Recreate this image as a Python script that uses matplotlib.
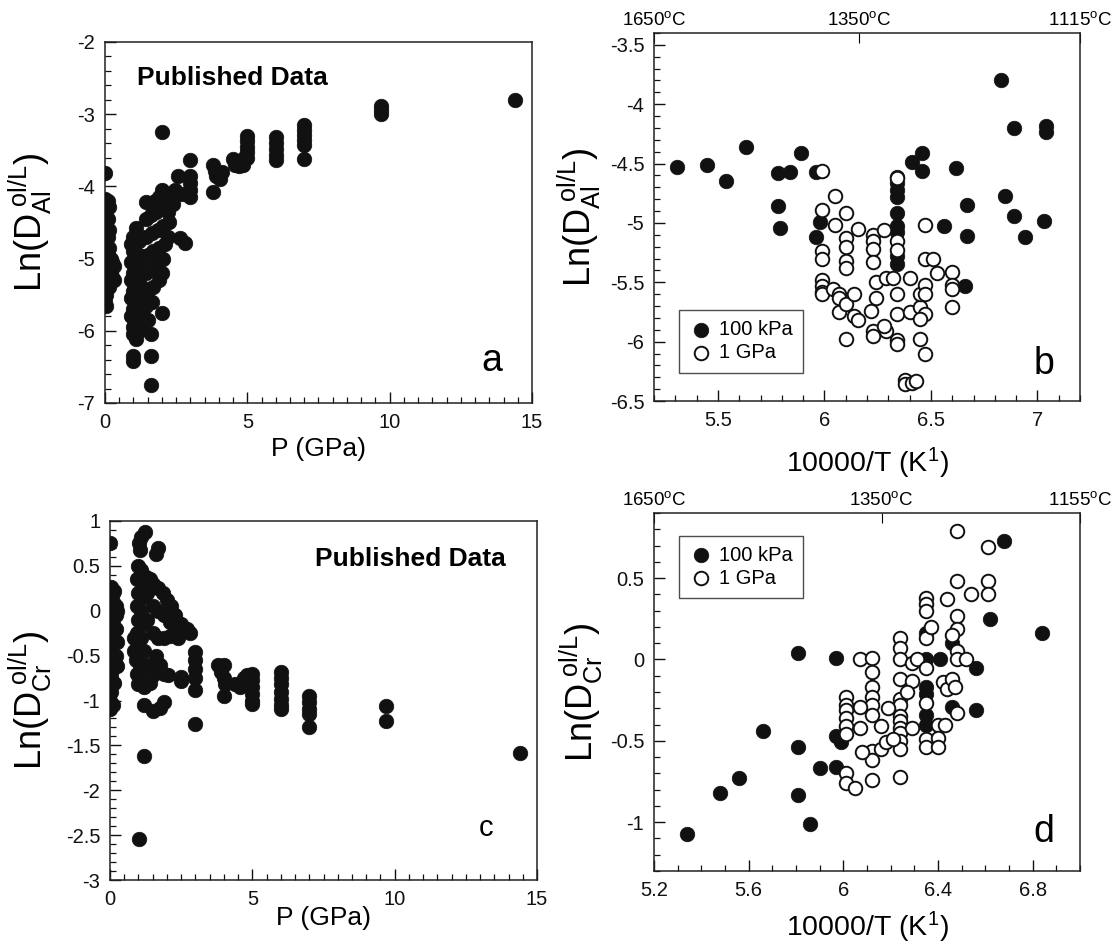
import matplotlib
matplotlib.use("Agg")
import matplotlib.pyplot as plt
from matplotlib.ticker import MultipleLocator
from matplotlib.transforms import blended_transform_factory

plt.rcParams["font.family"] = ["Liberation Sans", "DejaVu Sans"]
plt.rcParams["mathtext.fontset"] = "custom"
plt.rcParams["mathtext.rm"] = "Liberation Sans"
plt.rcParams["mathtext.it"] = "Liberation Sans:italic"

# ---- panel a: Ln(D_Al) vs P, published data ----
a_p = [0.0,
       0.0, 0.1, 0.05, 0.15, 0.0, 0.1, 0.05, 0.15, 0.0, 0.1, 0.05, 0.15, 0.0, 0.1, 0.2,
       0.05, 0.3, 0.15, 0.0, 0.25, 0.1, 0.3, 0.0, 0.15, 0.05, 0.0, 0.05, 0.2, 0.25,
       1.1, 1.0, 1.2, 0.9, 1.0, 1.2, 0.9, 1.1, 1.0, 1.2, 0.9, 1.1, 1.0, 1.2, 0.9,
       1.1, 1.0, 1.2, 0.9, 1.1, 1.0, 1.2, 1.0, 1.1, 1.0, 1.0, 1.3, 1.3, 1.3,
       1.45, 1.6, 1.75, 1.9, 2.0, 2.15, 2.3, 2.45,
       1.45, 1.6, 1.8, 2.0, 2.2, 2.4,
       1.45, 1.65, 1.85, 2.05, 2.25,
       1.5, 1.7, 1.9, 2.1, 2.2,
       1.45, 1.65, 1.85, 2.05,
       1.5, 1.7, 1.9, 2.0,
       1.45, 1.65, 1.5, 1.35,
       1.6, 1.6, 1.6, 2.0, 2.0,
       2.65, 2.8, 2.55, 2.7,
       3.0, 3.0, 3.0, 3.0, 3.0,
       3.8, 3.85, 3.9, 4.05, 4.1, 3.8,
       4.5, 4.55, 4.7, 4.85, 4.9,
       5.0, 5.0, 5.0, 5.0, 5.0,
       6.0, 6.0, 6.0, 6.0, 6.0,
       7.0, 7.0, 7.0, 7.0, 7.0, 7.0,
       9.7, 9.7, 9.7,
       14.4]
a_ln = [-3.82,
        -4.18, -4.2, -4.3, -4.28, -4.4, -4.45, -4.55, -4.6, -4.65, -4.7, -4.8, -4.85, -4.9, -4.95, -5.0,
        -5.05, -5.1, -5.15, -5.2, -5.25, -5.3, -5.3, -5.35, -5.4, -5.5, -5.6, -5.65, -5.2, -5.05,
        -4.57, -4.7, -4.75, -4.8, -4.9, -4.95, -5.05, -5.1, -5.2, -5.25, -5.3, -5.35, -5.45, -5.5, -5.55,
        -5.6, -5.7, -5.75, -5.8, -5.85, -5.95, -6.0, -6.05, -6.12, -6.35, -6.42, -5.0, -5.4, -5.8,
        -4.22, -4.25, -4.2, -4.15, -4.05, -4.1, -4.15, -4.05,
        -4.45, -4.4, -4.35, -4.3, -4.35, -4.25,
        -4.7, -4.65, -4.6, -4.55, -4.5,
        -4.95, -4.9, -4.85, -4.8, -4.7,
        -5.2, -5.15, -5.05, -5.0,
        -5.45, -5.4, -5.3, -5.2,
        -5.65, -5.6, -5.85, -5.9,
        -6.05, -6.35, -6.75, -5.76, -3.25,
        -4.72, -4.78, -3.85, -4.1,
        -3.63, -3.85, -3.95, -4.05, -4.15,
        -3.7, -3.78, -3.85, -3.9, -3.8, -4.08,
        -3.62, -3.7, -3.72, -3.7, -3.6,
        -3.3, -3.37, -3.45, -3.52, -3.6,
        -3.32, -3.4, -3.48, -3.56, -3.64,
        -3.15, -3.22, -3.29, -3.36, -3.43, -3.62,
        -2.88, -2.94, -3.0,
        -2.8]

# ---- panel b: Ln(D_Al) vs 10000/T ----
b_t_100kpa = [5.31, 5.45, 5.54, 5.63, 5.78, 5.84, 5.89, 5.96, 5.78, 5.79, 5.98, 5.96,
              6.34, 6.34, 6.34, 6.34, 6.34, 6.34, 6.34, 6.34, 6.34,
              6.41, 6.46, 6.46, 6.62, 6.67, 6.67, 6.56, 6.66,
              6.83, 6.89, 7.04, 7.04, 6.85, 6.89, 6.94, 7.03]
b_ln_100kpa = [-4.53, -4.51, -4.65, -4.36, -4.58, -4.57, -4.41, -4.57, -4.86, -5.04, -4.99, -5.12,
               -4.61, -4.66, -4.72, -4.78, -4.92, -5.03, -5.08, -5.28, -5.35,
               -4.49, -4.41, -4.56, -4.54, -4.85, -5.11, -5.03, -5.53,
               -3.80, -4.20, -4.18, -4.23, -4.77, -4.94, -5.12, -4.98]
b_t_1gpa = [5.99, 6.05, 5.99, 6.05, 6.10, 6.10, 6.10, 6.10, 6.10, 6.16, 6.23, 6.23, 6.23, 6.23,
            6.28, 6.34, 6.34, 6.34, 6.47, 6.47, 6.51, 5.99, 5.99,
            5.99, 5.99, 5.99, 5.99, 6.04, 6.07, 6.07, 6.07, 6.10, 6.14, 6.14, 6.16, 6.10,
            6.22, 6.23, 6.23, 6.24, 6.24, 6.29, 6.29, 6.28, 6.34, 6.34, 6.34, 6.34,
            6.40, 6.40, 6.45, 6.45, 6.47, 6.47, 6.47, 6.45, 6.45, 6.47,
            6.53, 6.60, 6.60, 6.60, 6.60, 6.38, 6.38, 6.41, 6.43, 6.32]
b_ln_1gpa = [-4.56, -4.77, -4.89, -5.02, -4.92, -5.13, -5.20, -5.32, -5.38, -5.05, -5.10, -5.15, -5.22, -5.33,
             -5.06, -4.62, -5.15, -5.23, -5.02, -5.30, -5.30, -5.24, -5.30,
             -5.48, -5.53, -5.58, -5.60, -5.56, -5.60, -5.63, -5.75, -5.68, -5.60, -5.78, -5.82, -5.98,
             -5.74, -5.91, -5.95, -5.63, -5.50, -5.91, -5.46, -5.87, -5.77, -5.60, -5.99, -6.02,
             -5.75, -5.46, -5.71, -5.60, -5.52, -5.60, -5.77, -5.81, -5.98, -6.10,
             -5.42, -5.41, -5.52, -5.56, -5.71, -6.32, -6.36, -6.35, -6.33, -5.46]

# ---- panel c: Ln(D_Cr) vs P, published data ----
c_p = [0.0,
       0.05, 0.15, 0.0, 0.1, 0.2, 0.05, 0.15, 0.25, 0.0, 0.1, 0.2, 0.05, 0.0, 0.15, 0.05,
       0.2, 0.0, 0.1, 0.25, 0.05, 0.0, 0.15, 0.05, 0.0, 0.1, 0.0, 0.1, 0.2, 0.25,
       1.0, 1.1, 0.95, 1.15, 1.0, 1.2, 0.95, 1.1, 1.0, 1.2, 0.95, 1.1, 1.0, 0.85, 1.2,
       0.9, 1.05, 0.95, 1.1, 1.0, 1.2, 1.25, 1.3, 1.3, 1.3, 0.85,
       1.22, 1.1, 1.02, 1.05, 1.7, 1.6,
       1.4, 1.5, 1.7, 1.85, 2.0, 2.15, 2.3, 2.5, 2.7, 2.8, 1.5, 1.7, 1.9, 2.1, 2.3, 2.4,
       1.5, 1.7, 1.9, 2.1, 1.6, 1.75, 1.9, 2.05, 1.5, 1.4, 2.6,
       1.2, 1.5, 1.75, 1.9, 1.2, 1.03,
       2.5, 2.5,
       3.0, 3.0, 3.0, 3.0, 3.0, 3.0,
       3.8, 4.0, 3.9, 4.0, 4.05, 4.0, 4.4, 4.55, 4.7, 4.8,
       5.0, 5.0, 5.0, 5.0, 5.0, 5.0,
       6.0, 6.0, 6.0, 6.0, 6.0, 6.0, 6.0,
       7.0, 7.0, 7.0, 7.0, 7.0,
       9.7, 9.7,
       14.4]
c_ln = [0.75,
        0.27, 0.22, 0.15, 0.10, 0.05, 0.0, -0.05, 0.0, -0.10, -0.15, -0.20, -0.25, -0.35, -0.35, -0.45,
        -0.50, -0.55, -0.60, -0.62, -0.70, -0.80, -0.80, -0.90, -1.0, -1.05, -1.10, 0.20, -0.05, -0.35,
        0.50, 0.45, 0.35, 0.30, 0.20, 0.15, 0.05, 0.0, -0.10, -0.15, -0.25, -0.30, -0.40, -0.45, -0.45,
        -0.55, -0.60, -0.70, -0.75, -0.82, -0.85, 0.38, 0.20, -0.10, -0.60, -0.30,
        0.88, 0.82, 0.75, 0.68, 0.70, 0.63,
        0.35, 0.30, 0.25, 0.20, 0.12, 0.05, -0.05, -0.15, -0.20, -0.25, 0.05, 0.0, -0.05, -0.12, -0.20, -0.30,
        -0.25, -0.30, -0.30, -0.28, -0.50, -0.60, -0.70, -0.72, -0.72, -0.80, -0.22,
        -1.05, -1.12, -1.08, -1.02, -1.62, -2.54,
        -0.74, -0.78,
        -0.46, -0.55, -0.65, -0.75, -0.88, -1.26,
        -0.60, -0.60, -0.68, -0.75, -0.82, -0.95, -0.82, -0.85, -0.75, -0.72,
        -0.70, -0.77, -0.85, -0.93, -1.0, -1.04,
        -0.68, -0.75, -0.82, -0.90, -0.98, -1.05, -1.10,
        -0.95, -1.02, -1.09, -1.15, -1.29,
        -1.06, -1.23,
        -1.58]

# ---- panel d: Ln(D_Cr) vs 10000/T ----
d_t_100kpa = [5.34, 5.48, 5.56, 5.66, 5.81, 5.81, 5.81, 5.86, 5.90, 5.97, 5.97, 5.99, 5.97,
              6.35, 6.35, 6.35, 6.35, 6.35, 6.35, 6.41, 6.46, 6.46, 6.56, 6.56, 6.62, 6.68, 6.84]
d_ln_100kpa = [-1.07, -0.82, -0.73, -0.44, 0.04, -0.54, -0.83, -1.01, -0.67, 0.01, -0.47, -0.51, -0.66,
               0.16, 0.0, -0.17, -0.21, -0.34, -0.40, 0.0, 0.10, -0.29, -0.05, -0.31, 0.25, 0.73, 0.16]
d_t_1gpa = [6.48, 6.61, 6.48, 6.61, 6.61, 6.54, 6.44, 6.35, 6.35, 6.35, 6.35, 6.37,
            6.48, 6.48, 6.46, 6.48, 6.48, 6.52,
            6.24, 6.24, 6.24, 6.24, 6.24, 6.24, 6.24, 6.24, 6.24, 6.24, 6.24, 6.24, 6.24,
            6.29, 6.31, 6.29, 6.27, 6.29, 6.35, 6.35, 6.35, 6.35,
            6.40, 6.40, 6.40, 6.43, 6.42, 6.44, 6.46, 6.47, 6.48,
            6.07, 6.12, 6.12, 6.12, 6.12, 6.12, 6.12, 6.12, 6.12, 6.12,
            6.01, 6.01, 6.01, 6.01, 6.01, 6.01, 6.01, 6.01, 6.05,
            6.07, 6.07, 6.08, 6.16, 6.19, 6.16, 6.18, 6.21]
d_ln_1gpa = [0.79, 0.69, 0.48, 0.48, 0.40, 0.40, 0.37, 0.38, 0.34, 0.30, 0.13, 0.20,
             0.27, 0.19, 0.15, 0.05, 0.0, 0.0,
             0.13, 0.07, 0.0, -0.12, -0.24, -0.28, -0.35, -0.38, -0.42, -0.45, -0.50, -0.55, -0.72,
             -0.02, 0.0, -0.13, -0.20, -0.42, -0.05, -0.27, -0.49, -0.54,
             -0.40, -0.48, -0.54, -0.40, -0.14, -0.18, -0.12, -0.17, -0.33,
             0.0, 0.01, -0.08, -0.17, -0.23, -0.28, -0.34, -0.56, -0.62, -0.74,
             -0.23, -0.28, -0.31, -0.36, -0.41, -0.46, -0.70, -0.76, -0.79,
             -0.29, -0.42, -0.57, -0.41, -0.30, -0.55, -0.51, -0.49]

top_b_labels = ["1650$^{\\mathregular{o}}$C", "1350$^{\\mathregular{o}}$C", "1115$^{\\mathregular{o}}$C"]
top_b_temps = [1650, 1350, 1115]
top_d_labels = ["1650$^{\\mathregular{o}}$C", "1350$^{\\mathregular{o}}$C", "1155$^{\\mathregular{o}}$C"]
top_d_temps = [1650, 1350, 1155]

YLAB_AL = r"Ln(D$_{\mathregular{Al}}^{\mathregular{\ ol/L}}$)"
YLAB_CR = r"Ln(D$_{\mathregular{Cr}}^{\mathregular{\ ol/L}}$)"
XLAB_T = r"10000/T (K$^{\mathregular{1}}$)"

FILLED = dict(s=110, c="#111111", edgecolors="#111111", linewidths=0.5, zorder=3)
OPEN = dict(s=95, facecolors="white", edgecolors="#111111", linewidths=1.4, zorder=3)
FIG_W, FIG_H = 1116, 948


def style_axis(ax, xmaj, xmin, ymaj, ymin):
    ax.xaxis.set_major_locator(MultipleLocator(xmaj))
    ax.xaxis.set_minor_locator(MultipleLocator(xmin))
    ax.yaxis.set_major_locator(MultipleLocator(ymaj))
    ax.yaxis.set_minor_locator(MultipleLocator(ymin))
    ax.xaxis.set_major_formatter(lambda v, pos=None: f"{v:g}")
    ax.yaxis.set_major_formatter(lambda v, pos=None: f"{v:g}")
    ax.tick_params(which="both", direction="in", top=False, right=False, labelsize=14.5, colors="#111111")
    ax.tick_params(which="major", length=8, width=1.0, pad=7)
    ax.tick_params(which="minor", length=4, width=0.9)
    for sp in ax.spines.values():
        sp.set_linewidth(1.1)
        sp.set_color("#222222")


def place_labels(fig, ax, xlabel, ylabel, ylab_right_px, xlab_top_px, ysize=26, xsize=19):
    # label anchors given in figure pixels (from top-left)
    ax.set_ylabel(ylabel, fontsize=ysize)
    ax.yaxis.set_label_coords(ylab_right_px / FIG_W, 0.5,
                              transform=blended_transform_factory(fig.transFigure, ax.transAxes))
    ax.set_xlabel(xlabel, fontsize=xsize)
    ax.xaxis.set_label_coords(0.5, 1 - xlab_top_px / FIG_H,
                              transform=blended_transform_factory(ax.transAxes, fig.transFigure))


def add_top_temps(ax, temps, labels, xlim):
    top = ax.secondary_xaxis("top")
    pos = [min(max(10000.0 / (t + 273.0), xlim[0]), xlim[1]) for t in temps]
    top.set_xticks(pos)
    top.set_xticklabels(labels)
    top.tick_params(direction="in", length=7, labelsize=13.5, pad=3)
    top.spines["top"].set_visible(False)


def add_legend(ax, **kw):
    leg = ax.legend(fontsize=14.5, frameon=True, fancybox=False, edgecolor="#222222",
                    handletextpad=0.3, borderpad=0.5, labelspacing=0.2, scatterpoints=1,
                    handlelength=1.2, **kw)
    leg.get_frame().set_linewidth(1.0)


def axes_rect(left, top, right, bottom):
    return [left / FIG_W, 1 - bottom / FIG_H, (right - left) / FIG_W, (bottom - top) / FIG_H]


fig = plt.figure(figsize=(11.16, 9.48), dpi=100)

# panel a
ax = fig.add_axes(axes_rect(105, 42, 532, 403))
ax.scatter(a_p, a_ln, **FILLED)
ax.set_xlim(0, 15)
ax.set_ylim(-7, -2)
style_axis(ax, 5, 0.5, 1, 0.2)
place_labels(fig, ax, "P (GPa)", YLAB_AL, 54, 437)
ax.text(0.075, 0.9, "Published Data", transform=ax.transAxes, fontsize=19,
        fontweight="bold", ha="left", va="center")
ax.text(0.905, 0.115, "a", transform=ax.transAxes, fontsize=27, ha="center", va="center")

# panel b
ax = fig.add_axes(axes_rect(654, 33, 1080, 401))
ax.scatter(b_t_100kpa, b_ln_100kpa, label="100 kPa", **FILLED)
ax.scatter(b_t_1gpa, b_ln_1gpa, label="1 GPa", **OPEN)
ax.set_xlim(5.2, 7.2)
ax.set_ylim(-6.5, -3.4)
style_axis(ax, 0.5, 0.1, 0.5, 0.1)
place_labels(fig, ax, XLAB_T, YLAB_AL, 603, 446, xsize=20.5)
add_top_temps(ax, top_b_temps, top_b_labels, (5.2, 7.2))
add_legend(ax, loc="lower left", bbox_to_anchor=(0.035, 0.05))
ax.text(0.915, 0.1, "b", transform=ax.transAxes, fontsize=27, ha="center", va="center")

# panel c
ax = fig.add_axes(axes_rect(110, 521, 537, 880))
ax.scatter(c_p, c_ln, **FILLED)
ax.set_xlim(0, 15)
ax.set_ylim(-3, 1)
style_axis(ax, 5, 0.5, 0.5, 0.1)
place_labels(fig, ax, "P (GPa)", YLAB_CR, 54, 906)
ax.text(0.927, 0.894, "Published Data", transform=ax.transAxes, fontsize=19,
        fontweight="bold", ha="right", va="center")
ax.text(0.88, 0.145, "c", transform=ax.transAxes, fontsize=21, ha="center", va="center")

# panel d
ax = fig.add_axes(axes_rect(654, 513, 1080, 871))
ax.scatter(d_t_100kpa, d_ln_100kpa, label="100 kPa", **FILLED)
ax.scatter(d_t_1gpa, d_ln_1gpa, label="1 GPa", **OPEN)
ax.set_xlim(5.2, 7.0)
ax.set_ylim(-1.3, 0.9)
style_axis(ax, 0.4, 0.1, 0.5, 0.1)
place_labels(fig, ax, XLAB_T, YLAB_CR, 605, 910, xsize=20.5)
add_top_temps(ax, top_d_temps, top_d_labels, (5.2, 7.0))
add_legend(ax, loc="upper left", bbox_to_anchor=(0.035, 0.965))
ax.text(0.915, 0.11, "d", transform=ax.transAxes, fontsize=27, ha="center", va="center")

fig.savefig("out.png", dpi=100)
